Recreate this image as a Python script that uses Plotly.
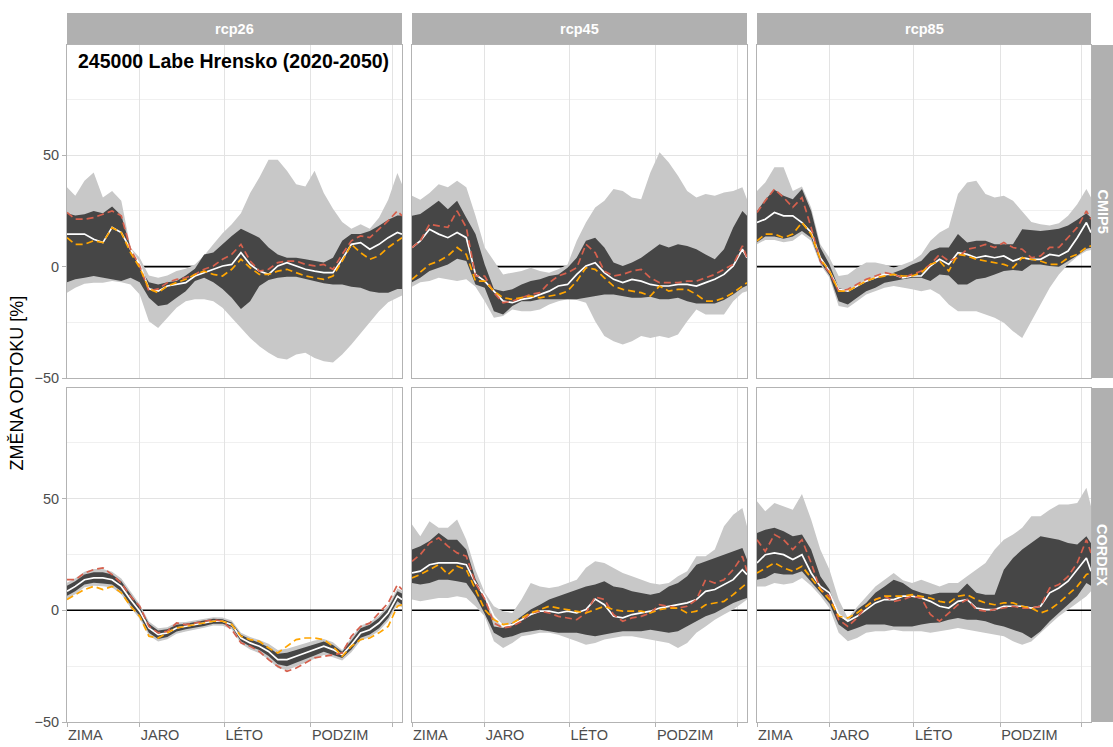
import plotly.graph_objects as go

# ---------------------------------------------------------------------------
# Data: relative change of runoff [%] by day of year
# ---------------------------------------------------------------------------
DAYS = [1, 10, 20, 30, 40, 50, 60, 70, 80, 90, 100, 110, 120, 130, 140, 150, 160,
        170, 180, 190, 200, 210, 220, 230, 240, 250, 260, 270, 280, 290, 300, 310,
        320, 330, 340, 350, 360, 365]

SEASON_DAYS = [1, 80, 172, 266, 355]
SEASON_LABELS = ["ZIMA", "JARO", "LÉTO", "PODZIM", ""]

ROWS = ["CMIP5", "CORDEX"]
COLS = ["rcp26", "rcp45", "rcp85"]
Y_TICKS = [-50, 0, 50]
Y_MINOR = [-25, 25, 75]

TITLE = "245000 Labe Hrensko (2020-2050)"
Y_TITLE = "ZMĚNA ODTOKU [%]"

# --- CMIP5 / rcp26 ---
cmip5_rcp26_max = [35.6, 31.8, 38.6, 42.3, 31, 34, 29.6, 8.6, 4, -4, -5, -4, -2, -1, 1, 5, 10, 15, 19, 24,
                   33, 40, 48, 48, 43, 37, 36, 43, 33, 26, 20, 17, 19, 17, 22, 30, 42, 37]
cmip5_rcp26_qhi = [24, 23, 23.5, 25, 24, 27, 23, 8.6, -0.5, -7, -8, -7, -6.5, -4, -1, 5.5, 6.3, 10, 13.8, 17,
                   15, 13, 8.6, 5.5, 4, 4, 3.3, 2.5, 1.8, 4, 11.6, 14.6, 14.6, 16, 18.3, 21, 23, 23]
cmip5_rcp26_qlo = [-7, -5.7, -5, -4.2, -5, -5.7, -6.5, -5, -7, -14, -17.7, -17, -14, -11, -6.5, -5, -7, -10, -14, -19,
                   -15.5, -8.7, -6, -5, -4.5, -4.5, -5.5, -6.5, -7.5, -8, -8, -9, -9.5, -11, -11.7, -11.7, -10, -10]
cmip5_rcp26_min = [-11.7, -9.5, -7.7, -7.2, -7.2, -6.5, -7, -8, -12.5, -24.5, -27.5, -23, -18.5, -15.5, -14.7, -14.7,
                   -15.5, -18.5, -23, -27.5, -32, -35.7, -38.7, -41, -41.7, -39.5, -38.7, -41, -42.5, -43, -39.5, -35,
                   -30.5, -25, -20, -16, -14, -13]
cmip5_rcp26_median = [14.6, 14.6, 14.6, 12.3, 10.8, 17.6, 15.3, 7.8, 1, -10, -11, -8.7, -8, -7.2, -4.2, -2.7, -1.2, 0.3,
                      1, 6.3, 1, -2, -3.5, 0.3, 1.8, 0.3, -1.2, -2, -2.7, -2.7, 3.3, 10, 10.8, 7.8, 10, 13, 15.3, 14.6]
cmip5_rcp26_scen_a = [24.3, 21.3, 21.3, 22, 23.5, 25, 22.8, 7.8, 0.3, -11, -10, -7.2, -5.7, -5, -3.5, -1.2, 0.3, 3.3,
                      5.5, 10, 2.5, -2, -1.2, 1.8, 2.5, 2.5, 1, 0.3, 1, -1.2, 5.5, 11.6, 13.8, 13, 16.8, 20.6, 25, 22.8]
cmip5_rcp26_scen_b = [13, 10, 10, 11.6, 10.8, 17.5, 15.3, 6.3, -0.5, -10, -11.7, -8.7, -7.2, -5.7, -3.5, -2, -3.5, -4.2,
                      -1.2, 3.3, -0.5, -3.5, -3.5, -2, -1.2, -2.7, -4.2, -5, -5.7, -4.2, 2.5, 10, 6.3, 3.3, 4.8, 8.6,
                      11.6, 13]

# --- CMIP5 / rcp45 ---
cmip5_rcp45_max = [31.8, 30, 33, 37, 35.6, 38.6, 35.6, 22.8, 8.6, 2.5, -3.5, -2.7, -2, -0.5, -2, -2.7, -1.2, 1, 11.6,
                   19.8, 26.6, 29.6, 34.8, 34, 31, 30.3, 42.3, 51.4, 46.8, 40.8, 34, 31, 32.6, 31.8, 33.3, 34, 35.6, 30.3]
cmip5_rcp45_qhi = [22.8, 23.6, 26.6, 29.6, 25.8, 29.6, 22, 14.6, 1, -10, -11, -10.2, -8, -6.5, -5.7, -4.2, -3.5, -0.5,
                   4, 11.6, 13, 8.6, 1.8, 0.3, 1.8, 4, 7, 10, 8.6, 10, 9.3, 7.8, 5.5, 3.3, 7.8, 17.6, 25, 22.8]
cmip5_rcp45_qlo = [-7, -5, -2, -0.5, 1, 3.5, 2.5, -8, -9.5, -20, -21.5, -17.7, -15.5, -15.5, -14.7, -14.7, -14.7, -14.7,
                   -14.7, -14, -13.2, -12.5, -12.5, -13.2, -14, -14, -13.5, -14.7, -14.7, -14, -15.5, -16.5, -16.5,
                   -16.5, -15, -12.5, -9.5, -8.5]
cmip5_rcp45_min = [-9, -7, -6.5, -5, -5.7, -6.5, -5.7, -9, -15.5, -23, -22.2, -19.2, -20, -20, -19.2, -17, -15.5, -14.7,
                   -15, -16.2, -24.5, -31.2, -33.5, -35, -33.5, -31.2, -32, -31.2, -32, -30.5, -24.5, -19.2, -21.5,
                   -21.5, -21.5, -15.5, -11.7, -11]
cmip5_rcp45_median = [8.6, 11.6, 16.8, 14.6, 13, 15.3, 13, -3.5, -6.5, -11, -15.5, -16.2, -14.7, -14, -12.5, -11, -8.7,
                      -8, -3.5, 0.3, 1.8, -2.7, -5.7, -7.2, -5.7, -6.5, -8, -8.7, -8.7, -8, -8, -8.7, -7.2, -5.7, -3.5,
                      0.3, 7.8, 4]
cmip5_rcp45_scen_a = [8.6, 11.6, 19, 18.3, 17.6, 25, 17.6, -4.2, -4.2, -11.7, -16.2, -15.5, -14, -12.5, -11.7, -7.2,
                      -4.2, -2.7, -0.5, 10, 6.3, -2, -4.2, -3.5, -2, -1.2, -5, -7.2, -7.2, -7.2, -6.5, -6.5, -5, -3.5,
                      -1.2, 1, 9.3, 4]
cmip5_rcp45_scen_b = [-5.7, -2.7, 1, 2.5, 4.8, 8.6, 5.5, -6.5, -6.5, -11, -14, -14.7, -14, -13.2, -14, -13.2, -12.5, -11,
                      -6.5, -0.5, -1.2, -5, -8.7, -10.2, -11, -11.7, -13.2, -8.7, -11, -10.2, -10.2, -12.5, -15.5,
                      -15.5, -14, -11.7, -8.7, -7.2]

# --- CMIP5 / rcp85 ---
cmip5_rcp85_max = [34, 37.8, 44.6, 44.6, 34, 36, 26.6, 10, 4, -4.2, -3.5, -0.5, 1.8, 1.8, 1, -0.5, 1, 2.5, 5.5, 11.6,
                   15.3, 17.6, 32.6, 37.8, 38.6, 32.6, 31, 31.8, 29.6, 25, 20, 19, 18.5, 19.5, 22.8, 28, 34.8, 31]
cmip5_rcp85_qhi = [25, 30, 34.5, 31.8, 30.3, 34.8, 25, 8.6, 1, -9.5, -11, -8.7, -6.5, -5, -4.2, -2.7, -1.2, 1, 2.5, 7,
                   8.6, 8.6, 14.6, 10.8, 11.6, 11.6, 10, 10, 10, 16.8, 16.5, 16, 16.5, 17, 18.5, 21, 24, 22]
cmip5_rcp85_qlo = [11, 13.5, 13.5, 12.5, 13.5, 16, 13, 2, -4, -15.5, -17, -14, -11, -9.5, -7.2, -6.5, -5.7, -5, -5,
                   -6.5, -3.5, -4, -8, -8, -5.7, -5, -3.5, -2, -1.5, -2, 1, 1, 0.3, 0, 2.5, 5, 8, 8.5]
cmip5_rcp85_min = [10, 12, 12, 11, 11.6, 14.6, 11.6, 1, -5, -17.7, -18.5, -15.5, -12.5, -11, -9.5, -8.7, -9.5, -10.2,
                   -11, -10.2, -12.5, -17, -20, -20, -20, -21.5, -23, -25.2, -29, -32, -24.5, -17, -9.5, -3.5, 1, 4.5,
                   7, 7.5]
cmip5_rcp85_median = [19.8, 21.3, 24.3, 22.8, 22.8, 19.8, 15.3, 4, -2, -10.2, -11, -8.7, -6.5, -5, -3.5, -3.5, -5, -4.2,
                      -4.2, 0.3, 3.3, 1, 6.3, 5.5, 4, 4.8, 4, 4.8, 2.5, 4, 3.3, 3.3, 5.5, 4.8, 7, 13, 19.8, 15.3]
cmip5_rcp85_scen_a = [24.3, 29.6, 34.8, 31, 26.6, 31, 17.6, 2.5, -2.7, -11, -10.2, -8, -5.7, -4.2, -2.7, -3.5, -5, -3.5,
                      -2, 1, 5.5, 2.5, 4, 7.8, 8.6, 10, 8.6, 10.8, 8.6, 7.8, 4, 4.8, 8.6, 8.6, 13, 17.6, 25, 21.3]
cmip5_rcp85_scen_b = [11.6, 14.6, 14.6, 13, 14.6, 19.8, 14.6, 3.3, -2, -11, -11, -8.7, -6.5, -5, -4.2, -3.5, -4.2, -4.2,
                      -2.7, 1, 2.5, -2, 5.5, 4.8, 3.3, 2.5, 1.8, 1, -0.5, 4, 3.3, 2.5, 1, 1, 4, 5.5, 8.6, 9.3]

# --- CORDEX / rcp26 ---
cordex_rcp26_max = [12.3, 14.3, 17.3, 18.5, 18.5, 17.3, 14.2, 8.3, 2.7, -5, -8, -7.6, -5.5, -5.2, -4.5, -3.9, -3.1,
                    -3.2, -4.6, -10, -12, -13.3, -15, -17.8, -17.2, -16, -14.8, -13.5, -12.8, -14.3, -17.8, -12.3,
                    -6.8, -5.3, -2.3, 2.3, 9.8, 8.8]
cordex_rcp26_qhi = [11, 13, 16, 17, 17, 16, 13, 7, 1.5, -6, -9, -8.5, -6.5, -6, -5.2, -4.6, -3.8, -4, -5.5, -11, -13,
                    -14.5, -16.5, -19.5, -19, -17.8, -16.5, -15, -14, -15.5, -18.5, -13.5, -8, -6.5, -3.5, 1, 8.5, 7.5]
cordex_rcp26_qlo = [6.5, 8.5, 11.5, 12.3, 12, 11.5, 8.5, 2.5, -2.5, -10, -12.8, -12, -9.5, -8.5, -7.7, -7, -6, -6,
                    -7.5, -13.8, -16.2, -17.8, -20.5, -24.2, -25, -23.5, -21.8, -20.2, -18.5, -19.8, -21.3, -17.5,
                    -12.3, -10.8, -8, -3.5, 4, 2.5]
cordex_rcp26_min = [5.2, 7.2, 10.3, 11, 10.8, 10.2, 7.2, 1.2, -3.8, -11.3, -14, -13, -10.5, -9.5, -8.5, -7.8, -6.8,
                    -6.9, -8.5, -15, -17.5, -19.2, -22, -25.8, -26.8, -25.3, -23.5, -21.7, -20, -21, -22.5, -18.8,
                    -13.6, -12, -9.3, -4.8, 2.6, 1.2]
cordex_rcp26_median = [8.5, 10.7, 13.7, 14.5, 14.5, 13.7, 10.7, 4.8, -0.4, -7.9, -10.9, -10.1, -7.9, -7.2, -6.4, -5.7,
                       -4.9, -4.9, -6.4, -12.4, -14.6, -16.1, -18.4, -22.1, -22.1, -20.6, -19.1, -17.6, -16.1, -17.6,
                       -19.9, -15.4, -10.1, -8.7, -5.7, -1.2, 6.3, 4.8]
cordex_rcp26_scen_a = [13.7, 13.7, 16.7, 18.2, 19, 16, 12.2, 6.3, 1.8, -7.2, -10.1, -9.4, -5.7, -6.4, -5.7, -4.9,
                       -4.2, -4.9, -8.7, -14.6, -16.1, -18.4, -22.1, -25.1, -27.3, -25.8, -23.6, -21.3, -20.6, -19.9,
                       -19.1, -11.6, -7.2, -5.7, -1.2, 3.3, 11.5, 9.3]
cordex_rcp26_scen_b = [4.8, 7, 9.3, 10.7, 9.3, 10.7, 7.8, 1.8, -2.7, -11.6, -12.4, -10.1, -7.9, -7.2, -6.4, -5.7, -4.9,
                       -4.9, -6.4, -11.6, -13.1, -13.9, -16.9, -19.1, -16.1, -13.1, -12.4, -12.4, -13.1, -16.1, -20.6,
                       -16.1, -13.1, -12.4, -10.1, -7.2, 1.8, 2.5]

# --- CORDEX / rcp45 ---
cordex_rcp45_max = [38.4, 33.1, 39.9, 36.9, 36.9, 40.6, 31.6, 18, 8, 1.8, -0.4, -1.2, 4.8, 12.2, 10.7, 10, 10.7, 12.2,
                    13.7, 19, 21.9, 21.2, 19, 16.7, 15.2, 13.7, 12.2, 11.5, 12.2, 15.2, 17.5, 24.2, 24.2, 27.2, 37.6,
                    42.8, 45.8, 37.6]
cordex_rcp45_qhi = [27.2, 28.7, 31, 34.6, 31.6, 31.6, 27.2, 14, 6, -7.2, -7.9, -5.7, -2.7, 0.3, 2.5, 4.8, 6.3, 7.8,
                    9.3, 10.7, 11.5, 13, 10.7, 10, 8.5, 7.8, 7, 7.8, 10.7, 12.2, 15.2, 20.4, 21.9, 23.4, 24.9, 26.4,
                    27.9, 22.7]
cordex_rcp45_qlo = [12.2, 11.5, 12.2, 13.7, 13.7, 13, 12.2, 6.3, -1.5, -10.1, -12.4, -11.6, -10.1, -9.4, -8.7, -9.4,
                    -10.1, -10.1, -10.1, -10.9, -11.6, -10.9, -10.1, -9.4, -9.4, -9.4, -8.7, -9.4, -10.1, -9.4, -7.2,
                    -4.9, -2.7, -1.2, 1, 3.3, 4.8, 5.5]
cordex_rcp45_min = [4.8, 4, 4.8, 5.5, 5.5, 6.3, 5.5, 1.8, -2.7, -13.9, -16.9, -14.6, -11.6, -10.9, -10.1, -10.1, -10.9,
                    -12.4, -13.9, -15.4, -14.6, -13.1, -12.4, -11.6, -11.6, -12.4, -13.1, -13.9, -14.6, -16.9, -14.6,
                    -10.1, -7.2, -4.2, -1.9, 0.3, 3.3, 4.8]
cordex_rcp45_median = [16.7, 17.5, 20.4, 21.2, 21.2, 21.2, 20.4, 12.2, 6.3, -2.7, -7.2, -6.4, -4.2, -1.9, -0.4, -0.4,
                       -1.2, -0.4, -1.2, 0.3, 5, 2.5, -2.7, -3.4, -1.9, -1.2, -0.4, 1, 1.8, 2.5, 3.3, 4.8, 8.5, 9.3,
                       11.5, 13.7, 18.2, 16]
cordex_rcp45_scen_a = [21.9, 24.9, 30.1, 32.4, 28.7, 25.7, 24.2, 12.2, 5, -5.7, -7.9, -7.2, -4.9, -1.2, -0.4, -1.2,
                       -2.7, -3.4, -4.2, -1.2, 6, 4.8, -1.9, -4.9, -3.4, -2.7, -1.2, 2.5, 1.8, 1, 1.8, 4.8, 13.7, 12.2,
                       13.7, 18.2, 24.2, 17.5]
cordex_rcp45_scen_b = [14.5, 16, 18.2, 20.4, 16, 19.7, 18.2, 9.3, 0.3, -4.2, -6.4, -5.7, -3.4, -1.2, 0.3, 1.8, 1, 0.3,
                       -0.4, -1.2, 0.3, 1.8, 0.3, -0.4, -0.4, -0.4, -1.2, 0.3, 1, 1, -1.2, -0.4, 2.5, 3.3, 4, 7, 10.7,
                       12.2]

# --- CORDEX / rcp85 ---
cordex_rcp85_max = [48.8, 44.3, 48, 46.6, 45, 52, 40.6, 27.2, 18.2, 4.8, -3.5, 1.5, 6.3, 10.7, 13.7, 16.7, 13.5, 12.2,
                    13.7, 12.2, 10.7, 12.2, 12.2, 15.2, 18.2, 21.2, 27.2, 31.6, 33.9, 36.9, 42.1, 42.1, 45, 47.3, 47.3,
                    48, 54.8, 46.6]
cordex_rcp85_qhi = [34.6, 36.1, 36.9, 35.4, 33.1, 33.9, 27.2, 15.2, 9.3, -2.7, -4.9, 0.3, 3.3, 7.8, 10.7, 13.7, 12.2,
                    9.3, 7.8, 7, 7.8, 7.8, 7.8, 12, 7.8, 7, 7, 18.2, 23.4, 27.2, 30.1, 33.1, 32.4, 31.6, 30.1, 29.4,
                    33.1, 30]
cordex_rcp85_qlo = [13.7, 14.5, 16.7, 16, 16, 17.5, 13, 8, 3, -6.4, -9.4, -7.9, -6.4, -6.4, -6.4, -7.2, -7.2, -7.2,
                    -6.4, -5.7, -5.5, -4.2, -3.4, -4.2, -4.2, -4.9, -6.4, -7.2, -8.7, -10.1, -12.5, -9.4, -4.9, -1.2,
                    2.5, 6.3, 12.2, 11]
cordex_rcp85_min = [10.7, 10.7, 12.2, 11.5, 12.2, 14.5, 11, 6.5, 1, -10.1, -13.9, -12.4, -10.1, -9.4, -9.4, -8.7, -9.4,
                    -9.4, -9.4, -10.1, -9.4, -8.7, -7.9, -8.7, -9.4, -10.1, -10.9, -11.6, -13.9, -15.4, -14, -10.1,
                    -6.4, -2.7, 0.3, 3.3, 6.3, 8.5]
cordex_rcp85_median = [21.2, 24.9, 25.7, 24.9, 22.7, 24.9, 16.7, 10.7, 7.8, -1.9, -4.9, -2.7, 0.3, 3.3, 4.8, 4.8, 6.3,
                       6.3, 5.5, 4, 1.8, 1, 4, 4.8, 1, 0.3, 0.3, 1.8, 1.8, 1.8, 1, 1.8, 7.8, 10, 13, 18.2, 23.4, 17.5]
cordex_rcp85_scen_a = [31.6, 26.4, 33.9, 31.6, 27.2, 31.6, 21.2, 9.3, 6.3, -4.2, -7.2, -3.4, 1.8, 4.8, 6.3, 4, 4.8,
                       6.3, 5.5, -1.9, -4.9, -1.2, 2.5, 4.8, 0.3, -0.4, 0.3, 1, 1.8, 1, 1, 1.8, 10, 11.5, 15.2, 21.2,
                       31.6, 25.7]
cordex_rcp85_scen_b = [16.7, 19, 21.2, 19, 17.5, 19.7, 14.5, 9.3, 4.8, -2.7, -3.4, -1.2, 1.8, 4.8, 6.3, 6.3, 6.3, 7,
                       6.3, 5.5, 4, 3.3, 6.3, 7, 4.8, 3.3, 2.5, 3.3, 3.3, 1.8, 1, -1.2, 0.3, 3.3, 7, 10.7, 16, 16.7]

PANELS = {
    ("CMIP5", "rcp26"): (cmip5_rcp26_max, cmip5_rcp26_min, cmip5_rcp26_qhi, cmip5_rcp26_qlo,
                         cmip5_rcp26_median, cmip5_rcp26_scen_a, cmip5_rcp26_scen_b),
    ("CMIP5", "rcp45"): (cmip5_rcp45_max, cmip5_rcp45_min, cmip5_rcp45_qhi, cmip5_rcp45_qlo,
                         cmip5_rcp45_median, cmip5_rcp45_scen_a, cmip5_rcp45_scen_b),
    ("CMIP5", "rcp85"): (cmip5_rcp85_max, cmip5_rcp85_min, cmip5_rcp85_qhi, cmip5_rcp85_qlo,
                         cmip5_rcp85_median, cmip5_rcp85_scen_a, cmip5_rcp85_scen_b),
    ("CORDEX", "rcp26"): (cordex_rcp26_max, cordex_rcp26_min, cordex_rcp26_qhi, cordex_rcp26_qlo,
                          cordex_rcp26_median, cordex_rcp26_scen_a, cordex_rcp26_scen_b),
    ("CORDEX", "rcp45"): (cordex_rcp45_max, cordex_rcp45_min, cordex_rcp45_qhi, cordex_rcp45_qlo,
                          cordex_rcp45_median, cordex_rcp45_scen_a, cordex_rcp45_scen_b),
    ("CORDEX", "rcp85"): (cordex_rcp85_max, cordex_rcp85_min, cordex_rcp85_qhi, cordex_rcp85_qlo,
                          cordex_rcp85_median, cordex_rcp85_scen_a, cordex_rcp85_scen_b),
}

# ---------------------------------------------------------------------------
# Layout (facet grid: rows = model family, columns = scenario)
# ---------------------------------------------------------------------------
W, H = 1113, 747
COL_PX = [(67, 402), (412, 747), (757, 1091)]
ROW_PX = [(45, 378), (388, 722)]
STRIP_TOP = 13
STRIP_RIGHT = 1113
Y_RANGE = [-50, 99.5]

FONT = "Liberation Sans, Arial, Helvetica, sans-serif"
STRIP_FILL = "#B0B0B0"
BORDER = "#B3B3B3"
GRID = "#E3E3E3"
GRID_MINOR = "#F0F0F0"
LIGHT_BAND = "#C8C8C8"
DARK_BAND = "#464646"
RED = "#D6604D"
ORANGE = "#FFA500"


def fx(px):
    return px / W


def fy(px):
    return 1 - px / H


fig = go.Figure()
layout = {}
shapes = []
annotations = []

for r, row in enumerate(ROWS):
    for c, col in enumerate(COLS):
        idx = r * 3 + c + 1
        sfx = "" if idx == 1 else str(idx)
        xref, yref = "x" + sfx, "y" + sfx
        vmax, vmin, qhi, qlo, med, sa, sb = PANELS[(row, col)]

        # zero reference line, drawn beneath the ribbons
        fig.add_trace(go.Scatter(x=[DAYS[0], DAYS[-1]], y=[0, 0], mode="lines",
                                 line=dict(color="black", width=1.6),
                                 xaxis=xref, yaxis=yref, hoverinfo="skip"))
        # ensemble envelope (min-max)
        fig.add_trace(go.Scatter(x=DAYS + DAYS[::-1], y=vmax + vmin[::-1], mode="lines",
                                 fill="toself", fillcolor=LIGHT_BAND, line=dict(width=0),
                                 xaxis=xref, yaxis=yref, hoverinfo="skip"))
        # inter-quantile band
        fig.add_trace(go.Scatter(x=DAYS + DAYS[::-1], y=qhi + qlo[::-1], mode="lines",
                                 fill="toself", fillcolor=DARK_BAND, line=dict(width=0),
                                 xaxis=xref, yaxis=yref, hoverinfo="skip"))
        fig.add_trace(go.Scatter(x=DAYS, y=med, mode="lines",
                                 line=dict(color="white", width=1.7),
                                 xaxis=xref, yaxis=yref))
        fig.add_trace(go.Scatter(x=DAYS, y=sa, mode="lines",
                                 line=dict(color=RED, width=1.7, dash="7px,4px"),
                                 xaxis=xref, yaxis=yref))
        fig.add_trace(go.Scatter(x=DAYS, y=sb, mode="lines",
                                 line=dict(color=ORANGE, width=1.7, dash="7px,4px"),
                                 xaxis=xref, yaxis=yref))

        x0, x1 = COL_PX[c]
        y0, y1 = ROW_PX[r]
        bottom = r == len(ROWS) - 1
        left = c == 0

        layout["xaxis" + sfx] = dict(
            domain=[fx(x0), fx(x1)], range=[DAYS[0], DAYS[-1]], anchor=yref,
            tickvals=SEASON_DAYS, ticktext=SEASON_LABELS,
            showticklabels=bottom, ticks="outside" if bottom else "", ticklen=4,
            tickcolor=BORDER, ticklabelposition="outside right",
            tickfont=dict(family=FONT, size=14.5, color="#4D4D4D"),
            showgrid=True, gridcolor=GRID, gridwidth=1,
            showline=True, mirror=True, linecolor=BORDER, linewidth=1,
            zeroline=False, fixedrange=True, automargin=False,
        )
        layout["yaxis" + sfx] = dict(
            domain=[fy(y1), fy(y0)], range=Y_RANGE, anchor=xref,
            tickvals=Y_TICKS, showticklabels=left,
            ticks="outside" if left else "", ticklen=4, tickcolor=BORDER,
            tickfont=dict(family=FONT, size=14.5, color="#4D4D4D"),
            showgrid=True, gridcolor=GRID, gridwidth=1,
            minor=dict(tickvals=Y_MINOR, showgrid=True, gridcolor=GRID_MINOR, gridwidth=0.6),
            showline=True, mirror=True, linecolor=BORDER, linewidth=1,
            zeroline=False, fixedrange=True, automargin=False,
        )

# column strips
for c, col in enumerate(COLS):
    x0, x1 = COL_PX[c]
    shapes.append(dict(type="rect", xref="paper", yref="paper",
                       x0=fx(x0), x1=fx(x1), y0=fy(ROW_PX[0][0]), y1=fy(STRIP_TOP),
                       fillcolor=STRIP_FILL, line=dict(width=0), layer="below"))
    annotations.append(dict(text="<b>%s</b>" % col, xref="paper", yref="paper",
                            x=fx((x0 + x1) / 2), y=fy((STRIP_TOP + ROW_PX[0][0]) / 2),
                            xanchor="center", yanchor="middle", showarrow=False,
                            font=dict(family=FONT, size=14.5, color="white")))

# row strips
for r, row in enumerate(ROWS):
    y0, y1 = ROW_PX[r]
    shapes.append(dict(type="rect", xref="paper", yref="paper",
                       x0=fx(COL_PX[-1][1]), x1=fx(STRIP_RIGHT), y0=fy(y1), y1=fy(y0),
                       fillcolor=STRIP_FILL, line=dict(width=0), layer="below"))
    annotations.append(dict(text="<b>%s</b>" % row, xref="paper", yref="paper",
                            x=fx((COL_PX[-1][1] + STRIP_RIGHT) / 2), y=fy((y0 + y1) / 2),
                            xanchor="center", yanchor="middle", textangle=90, showarrow=False,
                            font=dict(family=FONT, size=14.5, color="white")))

# station title inside the first panel
annotations.append(dict(text="<b>%s</b>" % TITLE, xref="paper", yref="paper",
                        x=fx(76), y=fy(61), xanchor="left", yanchor="middle", showarrow=False,
                        font=dict(family=FONT, size=19.5, color="black")))

# shared y-axis title
annotations.append(dict(text=Y_TITLE, xref="paper", yref="paper",
                        x=fx(16), y=fy((ROW_PX[0][0] + ROW_PX[1][1]) / 2),
                        xanchor="center", yanchor="middle", textangle=-90, showarrow=False,
                        font=dict(family=FONT, size=18, color="black")))

fig.update_layout(
    width=W, height=H, autosize=False,
    margin=dict(l=0, r=0, t=0, b=0, pad=0, autoexpand=False),
    paper_bgcolor="white", plot_bgcolor="white",
    showlegend=False, hovermode=False,
    shapes=shapes, annotations=annotations,
    **layout,
)

fig.write_html("out.html")
